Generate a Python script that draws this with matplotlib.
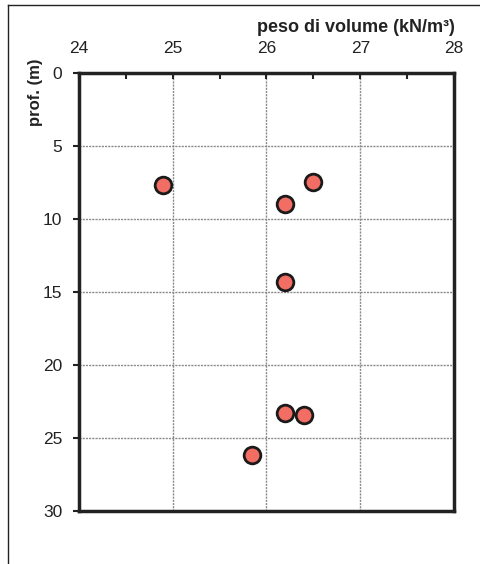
import matplotlib
matplotlib.use("Agg")
import matplotlib.pyplot as plt
from matplotlib.lines import Line2D
from matplotlib.ticker import MultipleLocator

plt.rcParams['font.family'] = ['Liberation Sans', 'DejaVu Sans']

# values
peso = [24.9, 26.5, 26.2, 26.2, 26.2, 26.4, 25.85]
prof = [7.65, 7.45, 9.0, 14.3, 23.3, 23.4, 26.2]

fig = plt.figure(figsize=(4.81, 5.64), dpi=100)
ax = fig.add_axes([0.164, 0.094, 0.780, 0.777])

ax.plot(peso, prof, 'o', ms=12, mfc='#F26D63', mec='#1a1a1a', mew=2, zorder=3)

ax.set_xlim(24, 28)
ax.set_ylim(30, 0)
ax.xaxis.set_major_locator(MultipleLocator(1))
ax.xaxis.set_minor_locator(MultipleLocator(0.5))
ax.yaxis.set_major_locator(MultipleLocator(5))
ax.xaxis.tick_top()
ax.tick_params(axis='x', which='both', direction='in', length=4, width=1.5,
               labelsize=12.5, pad=12, colors='#222222')
ax.tick_params(axis='y', direction='out', length=4, width=1.5,
               labelsize=12.5, pad=8, colors='#222222')
ax.tick_params(axis='y', which='minor', left=False)

ax.grid(True, which='major', color='#8a8a8a', linestyle=(0, (1.5, 0.8)), linewidth=1)
for s in ax.spines.values():
    s.set_linewidth(2.5)
    s.set_color('#222222')

fig.text(0.946, 0.951, 'peso di volume (kN/m³)', ha='right', va='center',
         fontsize=13, fontweight='bold', color='#222222')
fig.text(0.073, 0.897, 'prof. (m)', ha='center', va='top', rotation=90,
         fontsize=12, fontweight='bold', color='#222222')

# outer frame on top and left
fig.add_artist(Line2D([0.017, 0.017], [0.0, 0.991], color='#222222', lw=1,
                      transform=fig.transFigure))
fig.add_artist(Line2D([0.017, 1.0], [0.991, 0.991], color='#222222', lw=1,
                      transform=fig.transFigure))

fig.savefig('out.png', dpi=100)
